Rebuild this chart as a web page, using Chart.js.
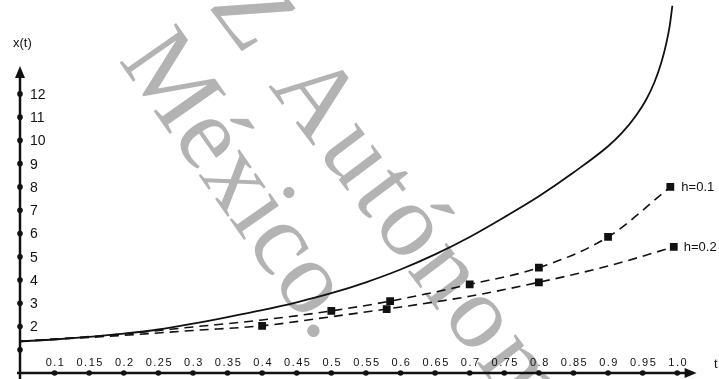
<!DOCTYPE html>
<html>
<head>
<meta charset="utf-8">
<script src="https://cdn.jsdelivr.net/npm/chart.js@4.4.1/dist/chart.umd.min.js"></script>
<style>
html,body{margin:0;padding:0;background:#fff;}
#wrap{width:719px;height:379px;position:relative;}
</style>
</head>
<body>
<div id="wrap"><canvas id="grafica"></canvas></div>
<script>

/* DATOS */

// solucion exacta (linea continua)
const tExacta = [0.05,0.1,0.15,0.2,0.25,0.3,0.35,0.4,0.45,0.5,0.55,0.6,0.65,0.7,0.75,0.8,0.85,0.9,0.92,0.94,0.955,0.967,0.977,0.984,0.989,0.993];
const xExacta = [1.36,1.44,1.55,1.69,1.87,2.12,2.4,2.7,3.04,3.43,3.9,4.45,5.1,5.85,6.7,7.6,8.62,9.75,10.32,11.05,11.75,12.5,13.35,14.15,14.9,15.8];

// Euler h=0.1
const tH1 = [0.05,0.2,0.3,0.4,0.5,0.585,0.7,0.8,0.9,0.99];
const xH1 = [1.36,1.68,1.98,2.28,2.67,3.09,3.81,4.53,5.85,8.0];
const tH1Marcas = [0.5,0.585,0.7,0.8,0.9,0.99];
const xH1Marcas = [2.67,3.09,3.81,4.53,5.85,8.0];

// Euler h=0.2
const tH2 = [0.05,0.2,0.3,0.4,0.5,0.58,0.7,0.8,0.9,0.995];
const xH2 = [1.36,1.62,1.83,2.03,2.42,2.75,3.3,3.9,4.6,5.42];
const tH2Marcas = [0.4,0.58,0.8,0.995];
const xH2Marcas = [2.03,2.75,3.9,5.42];

const etiquetas = ['h=0.1','h=0.2'];

const xTicks = [0.1,0.15,0.2,0.25,0.3,0.35,0.4,0.45,0.5,0.55,0.6,0.65,0.7,0.75,0.8,0.85,0.9,0.95,1.0];
const xTickLabels = ['0.1','0.15','0.2','0.25','0.3','0.35','0.4','0.45','0.5','0.55','0.6','0.65','0.7','0.75','0.8','0.85','0.9','0.95','1.0'];
const yTicks = [1,2,3,4,5,6,7,8,9,10,11,12];
const yTickLabels = ['','2','3','4','5','6','7','8','9','10','11','12'];


function puntos(ts,xs){
return ts.map((t,i)=>({x:t,y:xs[i]}));
}

const fuente = '"Liberation Sans", Arial, sans-serif';


/* marca de agua + ejes */

const ejes = {
id:'ejes',
beforeDatasetsDraw(chart){

const ctx = chart.ctx;
const sx = chart.scales.x;
const sy = chart.scales.y;

// marca de agua
ctx.save();
ctx.fillStyle = '#b3b3b3';
ctx.font = '105px "Liberation Serif", serif';
ctx.textBaseline = 'alphabetic';

ctx.save();
ctx.translate(118,60);
ctx.rotate(55*Math.PI/180);
ctx.fillText('México.',0,0);
ctx.restore();

ctx.save();
ctx.translate(268,86);
ctx.rotate(53*Math.PI/180);
ctx.letterSpacing = '5px';
ctx.fillText('Autónoma',0,0);
ctx.textAlign = 'right';
ctx.fillText('EZ ',0,0);
ctx.restore();
ctx.restore();

const x0 = sx.getPixelForValue(0.05);
const y0 = sy.getPixelForValue(0);
const yTop = sy.getPixelForValue(13.2);
const xEnd = sx.getPixelForValue(1.028);

ctx.save();
ctx.strokeStyle = '#111';
ctx.fillStyle = '#111';
ctx.lineWidth = 2.5;

// eje vertical
ctx.beginPath();
ctx.moveTo(x0,chart.height);
ctx.lineTo(x0,yTop+8);
ctx.stroke();
ctx.beginPath();
ctx.moveTo(x0,yTop);
ctx.lineTo(x0-5,yTop+12);
ctx.lineTo(x0+5,yTop+12);
ctx.closePath();
ctx.fill();

// eje horizontal
ctx.beginPath();
ctx.moveTo(x0-3,y0);
ctx.lineTo(xEnd-8,y0);
ctx.stroke();
ctx.beginPath();
ctx.moveTo(xEnd,y0);
ctx.lineTo(xEnd-12,y0-5);
ctx.lineTo(xEnd-12,y0+5);
ctx.closePath();
ctx.fill();

// puntos y etiquetas del eje y
ctx.font = '14px '+fuente;
ctx.textAlign = 'left';
ctx.textBaseline = 'middle';
yTicks.forEach(function(v,i){
let py = sy.getPixelForValue(v);
ctx.beginPath();
ctx.arc(x0,py,2.8,0,Math.PI*2);
ctx.fill();
ctx.fillText(yTickLabels[i],x0+10,py+1);
});

// puntos y etiquetas del eje x
ctx.font = '11px '+fuente;
ctx.textAlign = 'center';
ctx.letterSpacing = '1.5px';
xTicks.forEach(function(v,i){
let px = sx.getPixelForValue(v);
ctx.beginPath();
ctx.arc(px,y0,2.8,0,Math.PI*2);
ctx.fill();
ctx.fillText(xTickLabels[i],px+1,y0-10);
});
ctx.letterSpacing = '0px';

// titulos de ejes
ctx.font = '13px '+fuente;
ctx.textAlign = 'left';
ctx.fillText('x(t)',13,43);
ctx.fillText('t',714,364);
ctx.restore();

},

afterDatasetsDraw(chart){
const ctx = chart.ctx;
const sx = chart.scales.x;
const sy = chart.scales.y;
ctx.save();
ctx.fillStyle = '#111';
ctx.font = '13px '+fuente;
ctx.textAlign = 'left';
ctx.textBaseline = 'middle';
ctx.fillText(etiquetas[0],sx.getPixelForValue(tH1[tH1.length-1])+11,sy.getPixelForValue(xH1[xH1.length-1]));
ctx.fillText(etiquetas[1],sx.getPixelForValue(tH2[tH2.length-1])+10,sy.getPixelForValue(xH2[xH2.length-1]));
ctx.restore();
}
};


new Chart(document.getElementById("grafica"),{

type:'line',

data:{
datasets:[
{
label:'exacta',
data:puntos(tExacta,xExacta),
borderColor:'#111',
borderWidth:1.8,
pointRadius:0,
cubicInterpolationMode:'monotone'
},
{
label:etiquetas[0],
data:puntos(tH1,xH1),
borderColor:'#111',
borderWidth:1.6,
borderDash:[9,6],
pointRadius:0,
cubicInterpolationMode:'monotone'
},
{
label:etiquetas[1],
data:puntos(tH2,xH2),
borderColor:'#111',
borderWidth:1.6,
borderDash:[9,6],
pointRadius:0,
cubicInterpolationMode:'monotone'
},
{
label:'marcas h=0.1',
data:puntos(tH1Marcas,xH1Marcas),
showLine:false,
pointStyle:'rect',
pointRadius:5.5,
backgroundColor:'#111',
borderColor:'#111',
borderWidth:0
},
{
label:'marcas h=0.2',
data:puntos(tH2Marcas,xH2Marcas),
showLine:false,
pointStyle:'rect',
pointRadius:5.5,
backgroundColor:'#111',
borderColor:'#111',
borderWidth:0
}
]
},

options:{
responsive:true,
maintainAspectRatio:false,
animation:false,
layout:{padding:{left:20,right:21,top:0,bottom:6}},
scales:{
x:{type:'linear',min:0.05,max:1.03,display:false},
y:{type:'linear',min:0,max:15.8,display:false}
},
plugins:{
legend:{display:false},
tooltip:{enabled:false}
}
},

plugins:[ejes]

});

</script>
</body>
</html>
